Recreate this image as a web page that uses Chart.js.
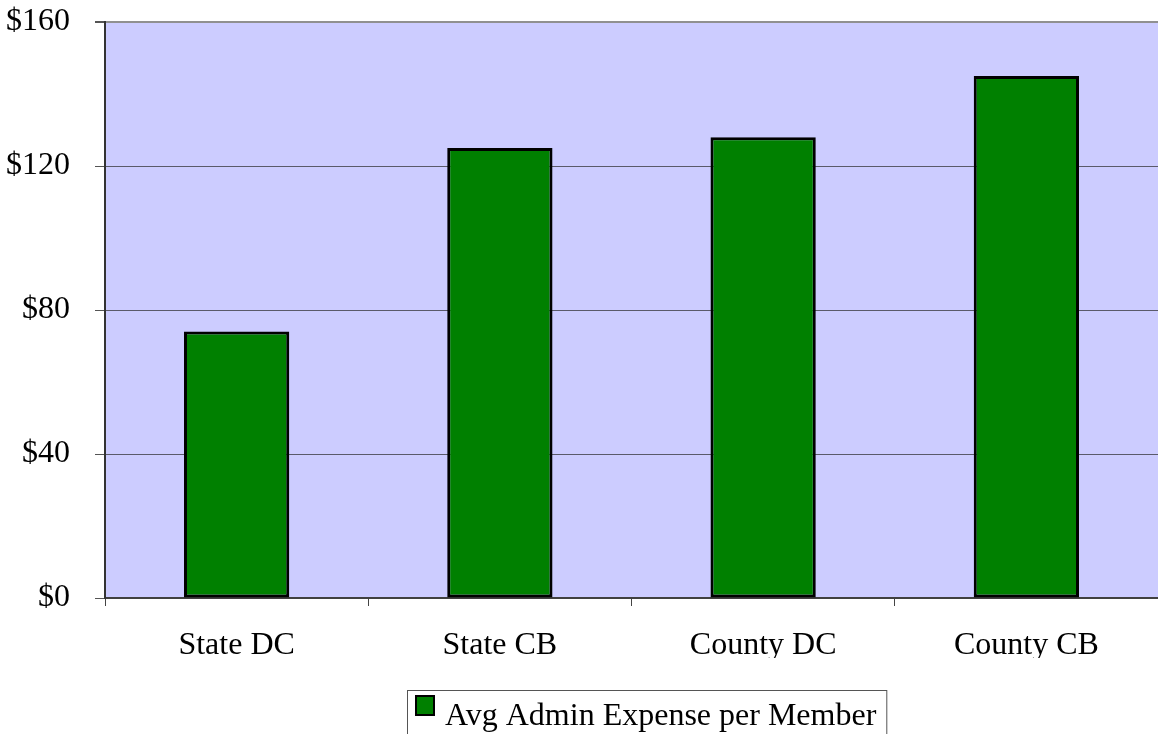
<!DOCTYPE html>
<html>
<head>
<meta charset="utf-8">
<script src="https://cdn.jsdelivr.net/npm/chart.js@4/dist/chart.umd.min.js"></script>
<style>
  html, body { margin: 0; padding: 0; background: #ffffff; }
  #wrap { width: 1158px; height: 734px; position: relative; }
</style>
</head>
<body>
<div id="wrap"><canvas id="chart"></canvas></div>
<script>
// Chart data
const categories = ['State DC', 'State CB', 'County DC', 'County CB'];
const seriesLabel = 'Avg Admin Expense per Member';
const avgAdminExpense = [74, 125, 128, 145];
const yTicks = [0, 40, 80, 120, 160];

const FONT = "'Liberation Serif', 'Times New Roman', serif";

// Lavender plot area behind the grid
const plotBackground = {
  id: 'plotBackground',
  beforeDraw(chart) {
    const { ctx, chartArea } = chart;
    ctx.save();
    ctx.fillStyle = '#ccccff';
    ctx.fillRect(chartArea.left, chartArea.top, chartArea.right - chartArea.left, chartArea.bottom - chartArea.top);
    ctx.restore();
  }
};

// Boxed legend like the original spreadsheet chart
const boxedLegend = {
  id: 'boxedLegend',
  afterDraw(chart) {
    const { ctx } = chart;
    const ds = chart.data.datasets[0];
    ctx.save();
    ctx.font = '32px ' + FONT;
    const textW = ctx.measureText(ds.label).width;
    const left = 407, top = 690;
    const w = 8 + 20 + 10 + textW + 10;
    ctx.strokeStyle = '#555555';
    ctx.lineWidth = 1;
    ctx.strokeRect(left + 0.5, top + 0.5, w, 60);
    ctx.fillStyle = ds.backgroundColor;
    ctx.fillRect(left + 8, top + 5, 20, 21);
    ctx.strokeStyle = '#000000';
    ctx.lineWidth = 2;
    ctx.strokeRect(left + 9, top + 6, 18, 19);
    ctx.fillStyle = '#000000';
    ctx.textBaseline = 'alphabetic';
    ctx.fillText(ds.label, left + 38, top + 35);
    ctx.restore();
  }
};

new Chart(document.getElementById('chart'), {
  type: 'bar',
  data: {
    labels: categories,
    datasets: [{
      label: seriesLabel,
      data: avgAdminExpense,
      backgroundColor: '#008000',
      borderColor: '#000000',
      borderWidth: 3,
      borderSkipped: false,
      barPercentage: 0.4,
      categoryPercentage: 1.0
    }]
  },
  options: {
    responsive: true,
    maintainAspectRatio: false,
    animation: false,
    layout: { padding: { top: 22, right: 0, bottom: 76, left: 0 } },
    plugins: {
      legend: { display: false },
      tooltip: { enabled: false }
    },
    scales: {
      x: {
        afterFit(scale) { scale.height = 60; scale.paddingLeft = 0; scale.paddingRight = 0; },
        grid: {
          offset: true,
          drawOnChartArea: false,
          drawTicks: true,
          tickLength: 8,
          tickColor: '#444444'
        },
        border: { display: true, color: '#404040', width: 2 },
        ticks: {
          color: '#000000',
          padding: 20,
          font: { family: FONT, size: 32 }
        }
      },
      y: {
        min: 0,
        max: 160,
        afterFit(scale) { scale.width = 105; scale.paddingTop = 0; scale.paddingBottom = 0; },
        afterBuildTicks(scale) { scale.ticks = yTicks.map(v => ({ value: v })); },
        grid: {
          color: ctx => ctx.tick && ctx.tick.value === 160 ? '#909090' : '#5a5a6a',
          lineWidth: ctx => ctx.tick && ctx.tick.value === 160 ? 2 : 1,
          tickLength: 10,
          tickColor: '#555555'
        },
        border: { display: true, color: '#333333', width: 2 },
        ticks: {
          color: '#000000',
          padding: 25,
          font: { family: FONT, size: 32 },
          callback: v => '$' + v
        }
      }
    }
  },
  plugins: [plotBackground, boxedLegend]
});
</script>
</body>
</html>
